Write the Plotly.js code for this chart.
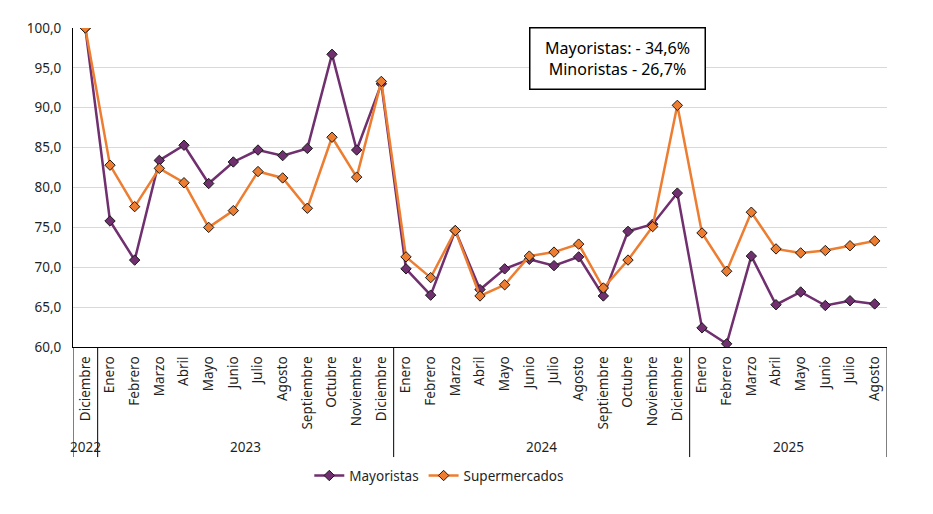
<!DOCTYPE html>
<html>
<head>
<meta charset="utf-8">
<script src="https://cdn.plot.ly/plotly-3.0.1.min.js"></script>
<style>html,body{margin:0;padding:0;background:#fff;}#chart{width:933px;height:514px;}</style>
</head>
<body>
<div id="chart"></div>
<script>
const months = ["Diciembre",
  "Enero","Febrero","Marzo","Abril","Mayo","Junio","Julio","Agosto","Septiembre","Octubre","Noviembre","Diciembre",
  "Enero","Febrero","Marzo","Abril","Mayo","Junio","Julio","Agosto","Septiembre","Octubre","Noviembre","Diciembre",
  "Enero","Febrero","Marzo","Abril","Mayo","Junio","Julio","Agosto"];
const yearLabels = ["2022","2023","2024","2025"];
const yearCounts = [1, 12, 12, 8];
const mayoristas = [100.0,
  75.8, 70.9, 83.4, 85.3, 80.5, 83.2, 84.7, 84.0, 84.9, 96.7, 84.7, 93.0,
  69.8, 66.5, 74.6, 67.2, 69.8, 71.0, 70.2, 71.3, 66.4, 74.5, 75.4, 79.3,
  62.4, 60.4, 71.4, 65.3, 66.9, 65.2, 65.8, 65.4];
const supermercados = [100.0,
  82.8, 77.6, 82.4, 80.6, 75.0, 77.1, 82.0, 81.2, 77.4, 86.3, 81.3, 93.3,
  71.3, 68.7, 74.6, 66.4, 67.8, 71.4, 71.9, 72.9, 67.4, 70.9, 75.1, 90.3,
  74.3, 69.5, 76.9, 72.3, 71.8, 72.1, 72.7, 73.3];
const noteLines = ["Mayoristas: - 34,6%", "Minoristas - 26,7%"];

const xIdx = months.map((m, i) => i);
const FONT = "Noto Sans, sans-serif";
const TXT = "#1f1f1f";
const FS = 13.5;

const traces = [
  {name: "Mayoristas", x: xIdx, y: mayoristas, type: "scatter", mode: "lines+markers",
   line: {color: "#702F6F", width: 2.5},
   marker: {symbol: "diamond", size: 8, color: "#702F6F", line: {color: "#1a1a1a", width: 1}}},
  {name: "Supermercados", x: xIdx, y: supermercados, type: "scatter", mode: "lines+markers",
   line: {color: "#ED7D31", width: 2.5},
   marker: {symbol: "diamond", size: 8, color: "#ED7D31", line: {color: "#1a1a1a", width: 1}}}
];

const shapes = [];
const annotations = [];
let start = -0.5;
shapes.push({type: "line", xref: "x", yref: "paper", x0: start, x1: start, y0: 0, y1: -0.345,
  line: {color: "#000", width: 1}});
yearLabels.forEach((yl, k) => {
  const end = start + yearCounts[k];
  shapes.push({type: "line", xref: "x", yref: "paper", x0: end, x1: end, y0: 0, y1: -0.345,
    line: {color: "#000", width: 1}});
  annotations.push({text: yl, xref: "x", yref: "paper", x: (start + end) / 2, y: -0.315,
    showarrow: false, xanchor: "center", yanchor: "middle", font: {family: FONT, size: FS, color: TXT}});
  start = end;
});
annotations.push({text: noteLines.join("<br>"), xref: "paper", yref: "paper", x: 0.6695, y: 0.903,
  xanchor: "center", yanchor: "middle", showarrow: false, width: 172, height: 58,
  bordercolor: "#000", borderwidth: 1.5, borderpad: 1, bgcolor: "#fff",
  font: {family: FONT, size: 16, color: "#000"}});

const layout = {
  width: 933, height: 514,
  margin: {l: 73, r: 46, t: 28, b: 167},
  paper_bgcolor: "#fff", plot_bgcolor: "#fff",
  separators: ",.",
  font: {family: FONT, size: FS, color: TXT},
  showlegend: true,
  legend: {orientation: "h", x: 0.45, xanchor: "center", y: -0.355, yanchor: "top",
    font: {family: FONT, size: FS, color: TXT}},
  xaxis: {range: [-0.5, 32.5], tickvals: xIdx, ticktext: months, tickangle: -90,
    showgrid: false, zeroline: false, showline: true, linecolor: "#000", linewidth: 1,
    ticks: "", ticklabelstandoff: 3, tickfont: {family: FONT, size: FS, color: TXT}},
  yaxis: {range: [60, 100], dtick: 5, tick0: 60, tickformat: ".1f",
    showgrid: true, gridcolor: "#d9d9d9", gridwidth: 1, zeroline: false,
    showline: true, linecolor: "#000", linewidth: 1, ticks: "", ticklabelstandoff: 8,
    tickfont: {family: FONT, size: FS, color: TXT}},
  shapes: shapes,
  annotations: annotations
};

Plotly.newPlot("chart", traces, layout, {displayModeBar: false, staticPlot: true});
</script>
</body>
</html>
